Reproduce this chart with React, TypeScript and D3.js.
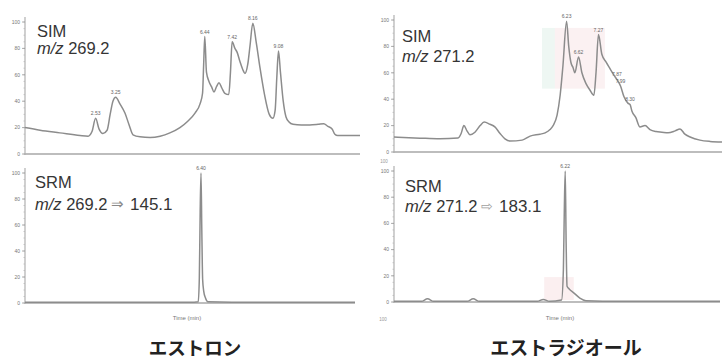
import React from 'react';
import * as d3 from 'd3';

// ---------- data ----------
const yTickValues = [0, 20, 40, 60, 80, 100];
const yTickLabels = ['0', '20', '40', '60', '80', '100'];

// Estrone SIM m/z 269.2
const e1SimTime = [0, 0.54, 1.25, 1.97, 2.26, 2.4, 2.53, 2.65, 2.79, 2.94, 3.05, 3.15, 3.25, 3.4, 3.58, 3.73, 3.87, 4.12, 4.48, 4.84, 5.19, 5.55, 5.84, 6.09, 6.27, 6.36, 6.4, 6.44, 6.5, 6.59, 6.68, 6.77, 6.86, 6.95, 7.05, 7.16, 7.3, 7.36, 7.42, 7.52, 7.6, 7.7, 7.8, 7.88, 7.98, 8.06, 8.16, 8.28, 8.42, 8.58, 8.75, 8.88, 8.96, 9.02, 9.08, 9.15, 9.25, 9.35, 9.45, 9.6, 9.9, 10.2, 10.5, 10.7, 10.85, 11.0, 11.1, 11.2, 11.6, 12.0];
const e1SimInt = [20, 18, 16, 14, 13.5, 17, 27, 19, 15.5, 18, 30, 40, 43, 38, 31, 22, 14.5, 13, 12.5, 13.5, 16, 20, 25, 31, 38, 46, 68, 89, 62, 55, 51, 47, 51, 54, 50, 46, 45, 62, 85, 80, 77, 70, 64, 61, 68, 82, 99, 85, 65, 45, 30, 27, 33, 58, 78, 62, 40, 28, 24.5, 22.5, 22, 22, 22.5, 23, 21, 19, 15, 14, 14, 14];
const e1SimLabels = [2.53, 3.25, 6.44, 7.42, 8.16, 9.08];

// Estrone SRM m/z 269.2 -> 145.1
const e1SrmTime = [0, 3, 6.0, 6.3, 6.34, 6.37, 6.4, 6.43, 6.46, 6.5, 6.56, 6.65, 9, 12];
const e1SrmInt = [0.6, 0.5, 0.6, 1, 20, 70, 100, 55, 18, 9, 4, 1, 0.5, 0.5];
const e1SrmLabels = [6.4];

// Estradiol SIM m/z 271.2
const e2SimTime = [0.6, 1.45, 2.1, 2.69, 2.79, 2.88, 2.98, 3.08, 3.24, 3.41, 3.54, 3.73, 3.89, 4.06, 4.22, 4.38, 4.78, 5.04, 5.36, 5.53, 5.69, 5.79, 5.92, 6.02, 6.11, 6.23, 6.3, 6.37, 6.44, 6.5, 6.62, 6.73, 6.86, 6.99, 7.12, 7.19, 7.27, 7.38, 7.52, 7.65, 7.78, 7.87, 7.99, 8.1, 8.23, 8.3, 8.36, 8.49, 8.62, 8.79, 8.95, 9.15, 9.34, 9.54, 9.77, 9.93, 10.09, 10.26, 10.58, 10.91, 11.3];
const e2SimInt = [11.4, 10.5, 10, 10.6, 14, 20, 16, 13, 15, 20, 22.7, 21, 19, 14, 10, 8.3, 9, 12, 13.5, 14.5, 17, 20, 28, 43, 65, 99, 80, 68, 64, 60, 72, 60, 52, 47, 43, 60, 89, 74, 68, 63, 58, 55, 50, 42, 37, 36, 31, 26, 19, 20, 17, 15.5, 15, 14.5, 16, 17.5, 13.5, 11.4, 9, 8, 7.6];
const e2SimLabels = [6.23, 6.62, 7.27, 7.87, 7.99, 8.3];

// Estradiol SRM m/z 271.2 -> 183.1
const e2SrmTime = [0.6, 1.5, 1.7, 1.9, 3.0, 3.2, 3.4, 5.3, 5.5, 5.7, 6.1, 6.16, 6.19, 6.22, 6.25, 6.28, 6.35, 6.5, 6.7, 6.9, 8.0, 11.3];
const e2SrmInt = [0.5, 0.5, 2.5, 0.5, 0.5, 2.5, 0.5, 0.5, 2, 0.5, 1.5, 25, 70, 100, 45, 12, 10, 7, 3, 1, 0.5, 0.5];
const e2SrmLabels = [6.22];

// faint highlight bands (time / intensity ranges)
const e2SimBands = [
  { t0: 5.43, t1: 5.85, v0: 48, v1: 94, color: '#eef7f3' },
  { t0: 5.85, t1: 7.48, v0: 48, v1: 94, color: '#fbf1f2' },
];
const e2SrmBands = [{ t0: 5.53, t1: 6.5, v0: 1.5, v1: 19, color: '#fbeff0' }];

const compoundNames = ['エストロン', 'エストラジオール'];
const timeAxisLabel = 'Time (min)';

// ---------- helpers ----------
function valueAt(time: number[], vals: number[], t: number) {
  const i = d3.bisectLeft(time, t);
  if (i <= 0) return vals[0];
  if (i >= time.length) return vals[vals.length - 1];
  const t0 = time[i - 1], t1 = time[i];
  return vals[i - 1] + ((vals[i] - vals[i - 1]) * (t - t0)) / (t1 - t0);
}

type Band = { t0: number; t1: number; v0: number; v1: number; color: string };

function Chrom(props: {
  x0: number; x1: number; yTop: number; yBot: number; domain: [number, number];
  time: number[]; vals: number[]; labels: number[]; bands?: Band[];
}) {
  const { x0, x1, yTop, yBot, domain, time, vals, labels, bands = [] } = props;
  const x = d3.scaleLinear().domain(domain).range([x0, x1]);
  const y = d3.scaleLinear().domain([0, 100]).range([yBot, yTop]);
  const pts: [number, number][] = time.map((t, i) => [t, vals[i]]);
  const line = d3.line<[number, number]>().x(d => x(d[0])).y(d => y(d[1])).curve(d3.curveMonotoneX);
  const minor = d3.range(0, 101, 5);
  return (
    <g>
      {bands.map((b, i) => (
        <rect key={i} x={x(b.t0)} width={x(b.t1) - x(b.t0)} y={y(b.v1)} height={y(b.v0) - y(b.v1)} fill={b.color} />
      ))}
      <line x1={x0} x2={x1} y1={yBot} y2={yBot} stroke="#bdbdbd" strokeWidth={2} />
      <line x1={x0} x2={x0} y1={yBot + 1} y2={yTop - 5} stroke="#b0b0b0" strokeWidth={1.2} />
      {minor.map(v => (
        <line key={'m' + v} x1={x0 - 1.5} x2={x0} y1={y(v)} y2={y(v)} stroke="#b5b5b5" strokeWidth={0.7} />
      ))}
      {yTickValues.map((v, i) => (
        <g key={'t' + v}>
          <line x1={x0 - 3} x2={x0} y1={y(v)} y2={y(v)} stroke="#999" strokeWidth={0.8} />
          <text x={x0 - 5} y={y(v) + 1.8} fontSize={5} textAnchor="end" fill="#777" fontFamily="Liberation Sans, Arial, sans-serif">{yTickLabels[i]}</text>
        </g>
      ))}
      <path d={line(pts) || ''} fill="none" stroke="#8c8c8c" strokeWidth={1.5} strokeLinejoin="round" />
      {labels.map(t => (
        <text key={'l' + t} x={x(t)} y={y(valueAt(time, vals, t)) - 3} fontSize={5} textAnchor="middle" fill="#666" fontFamily="Liberation Sans, Arial, sans-serif">{t.toFixed(2)}</text>
      ))}
    </g>
  );
}

const sans = 'Liberation Sans, Arial, Helvetica, sans-serif';

export default function App() {
  return (
    <svg width={724} height={361} viewBox="0 0 724 361" style={{ position: 'absolute', left: 0, top: 0, background: '#fff' }}>
      <rect x={0} y={0} width={724} height={361} fill="#fff" />
      {/* Estrone */}
      <Chrom x0={25} x1={360} yTop={22} yBot={154} domain={[0, 12]} time={e1SimTime} vals={e1SimInt} labels={e1SimLabels} />
      <Chrom x0={25} x1={355} yTop={173} yBot={303} domain={[0, 12]} time={e1SrmTime} vals={e1SrmInt} labels={e1SrmLabels} />
      {/* Estradiol */}
      <Chrom x0={394} x1={722} yTop={20} yBot={152} domain={[0.6, 11.3]} time={e2SimTime} vals={e2SimInt} labels={e2SimLabels} bands={e2SimBands} />
      <Chrom x0={394} x1={720} yTop={171} yBot={302} domain={[0.6, 11.3]} time={e2SrmTime} vals={e2SrmInt} labels={e2SrmLabels} bands={e2SrmBands} />

      <g fontFamily={sans} fill="#353535" fontSize={16.5}>
        <text x={37} y={37}>SIM</text>
        <text x={37} y={54}><tspan fontStyle="italic">m/z</tspan> 269.2</text>
        <text x={402} y={42}>SIM</text>
        <text x={402} y={62}><tspan fontStyle="italic">m/z</tspan> 271.2</text>

        <text x={35} y={188}>SRM</text>
        <text x={35} y={210}><tspan fontStyle="italic">m/z</tspan> 269.2</text>
        <text x={111} y={209} fill="#8a8a8a" fontSize={15}>⇒</text>
        <text x={130} y={210} fontSize={17}>145.1</text>

        <text x={405} y={192}>SRM</text>
        <text x={405} y={212}><tspan fontStyle="italic">m/z</tspan> 271.2</text>
        <text x={481} y={211} fill="#a0a0a0" fontSize={14}>⇨</text>
        <text x={499} y={212} fontSize={17}>183.1</text>
      </g>

      <text x={187} y={320} fontSize={6} textAnchor="middle" fill="#777" fontFamily={sans}>{timeAxisLabel}</text>
      <text x={560} y={320} fontSize={6} textAnchor="middle" fill="#777" fontFamily={sans}>{timeAxisLabel}</text>
      <text x={384} y={163} fontSize={4.5} textAnchor="middle" fill="#999" fontFamily={sans}>100</text>
      <text x={383} y={321} fontSize={4.5} textAnchor="middle" fill="#999" fontFamily={sans}>100</text>

      <text x={195} y={355} fontSize={18.5} fontWeight="bold" textAnchor="middle" fill="#222" fontFamily="Noto Sans CJK JP, sans-serif">{compoundNames[0]}</text>
      <text x={566} y={355} fontSize={19} fontWeight="bold" textAnchor="middle" fill="#222" fontFamily="Noto Sans CJK JP, sans-serif">{compoundNames[1]}</text>
    </svg>
  );
}
